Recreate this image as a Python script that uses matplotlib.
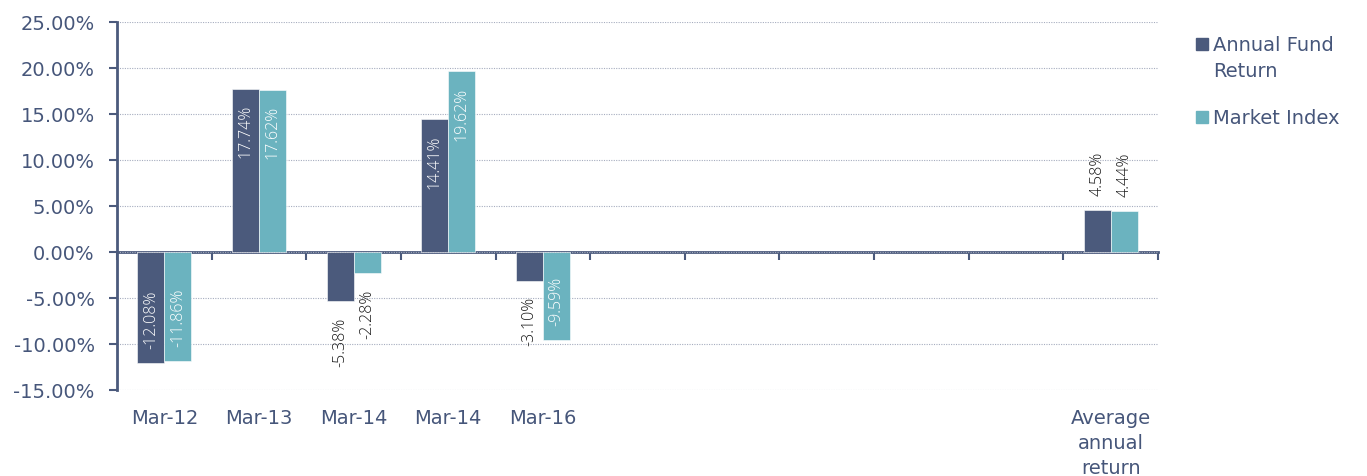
import numpy as np
import matplotlib
matplotlib.use('Agg')
import matplotlib.pyplot as plt
from matplotlib.patches import Rectangle
from matplotlib.ticker import FuncFormatter, FixedLocator

categories = ['Mar-12', 'Mar-13', 'Mar-14', 'Mar-14', 'Mar-16',
              '', '', '', '', '', 'Average\nannual\nreturn']
fund_return = [-12.08, 17.74, -5.38, 14.41, -3.10,
               np.nan, np.nan, np.nan, np.nan, np.nan, 4.58]
market_index = [-11.86, 17.62, -2.28, 19.62, -9.59,
                np.nan, np.nan, np.nan, np.nan, np.nan, 4.44]
series_names = ['Annual Fund\nReturn', 'Market Index']

DARK = '#4b5a7c'
TEAL = '#6bb3bf'
TEXT = '#46567a'
GRID = '#a6adbf'
W, H = 1367, 477

plt.rcParams['font.family'] = ['DejaVu Sans']

fig = plt.figure(figsize=(W / 100, H / 100), dpi=100)
ax = fig.add_axes([117 / W, 1 - 391 / H, 1041 / W, 368 / H])

x = np.arange(len(categories))
w = 0.285
bars_f = ax.bar(x - w / 2, fund_return, w, color=DARK, edgecolor='white',
                linewidth=0.4, zorder=3)
bars_m = ax.bar(x + w / 2, market_index, w, color=TEAL, edgecolor='white',
                linewidth=0.4, zorder=3)

# data labels: inside end for big bars, outside end for small ones
for bars, vals in ((bars_f, fund_return), (bars_m, market_index)):
    for b, v in zip(bars, vals):
        if np.isnan(v):
            continue
        cx = b.get_x() + b.get_width() / 2
        inside = abs(v) > 8
        sign = 1 if v > 0 else -1
        off = -sign * 11 if inside else sign * 11
        if inside:
            va = 'top' if v > 0 else 'bottom'
            col = 'white'
        else:
            va = 'bottom' if v > 0 else 'top'
            col = '#1a1a1a'
        ax.annotate(f'{v:.2f}%', (cx, v), xytext=(0, off),
                    textcoords='offset points', rotation=90,
                    ha='center', va=va, fontsize=11.5, color=col,
                    family='Open Sans', fontweight='light', zorder=4)

ax.set_xlim(-0.5, len(categories) - 0.5)
ax.set_ylim(-15, 25)
ax.set_yticks(np.arange(-15, 26, 5))
ax.yaxis.set_major_formatter(FuncFormatter(lambda v, p: f'{v:.2f}%'))
ax.tick_params(axis='y', length=6, width=1.5, color=DARK, labelsize=14,
               labelcolor=TEXT, pad=10)

ax.set_xticks(x)
ax.set_xticklabels(categories, fontsize=14, color=TEXT,
                   linespacing=1.4, va='top')
ax.tick_params(axis='x', length=0, pad=13)

ax.grid(axis='y', linestyle=(0, (1, 1.2)), color=GRID, linewidth=0.8, zorder=0)
for s in ('top', 'right', 'bottom'):
    ax.spines[s].set_visible(False)
ax.spines['left'].set_color(DARK)
ax.spines['left'].set_linewidth(2)

# zero line with category boundary ticks
zero_ax = ax.secondary_xaxis((0 - (-15)) / 40)
zero_ax.spines['bottom'].set_color(DARK)
zero_ax.spines['bottom'].set_linewidth(2)
zero_ax.xaxis.set_major_locator(FixedLocator(np.arange(-0.5, len(categories), 1)))
zero_ax.tick_params(axis='x', direction='out', length=6, width=1.5,
                    color=DARK, labelbottom=False)

# legend: square aligned with the first text line
for name, col, top in ((series_names[0], DARK, 39), (series_names[1], TEAL, 112)):
    fig.patches.append(Rectangle((1196 / W, 1 - (top + 12) / H), 12 / W, 12 / H,
                                 transform=fig.transFigure, color=col))
    fig.text(1213 / W, 1 - (top - 3) / H, name, fontsize=14, color=TEXT,
             va='top', ha='left', linespacing=1.45)

fig.savefig('out.png', dpi=100)
